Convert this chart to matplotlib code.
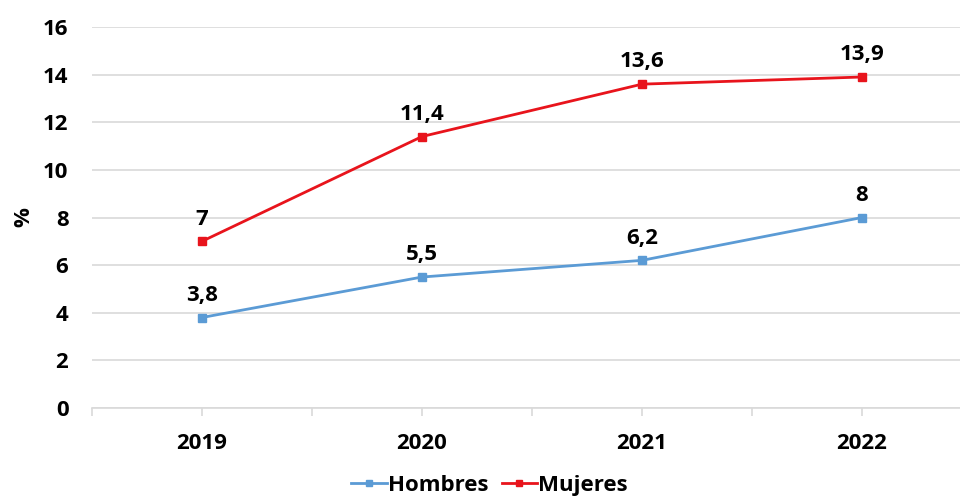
import numpy as np
import matplotlib.pyplot as plt

years = ["2019", "2020", "2021", "2022"]
hombres = [3.8, 5.5, 6.2, 8.0]
mujeres = [7.0, 11.4, 13.6, 13.9]
yticks = [0, 2, 4, 6, 8, 10, 12, 14, 16]

plt.rcParams['font.family'] = ['Open Sans', 'DejaVu Sans']
plt.rcParams['font.weight'] = 'bold'

BLUE = '#5b9bd5'
RED = '#e8141c'
FS = 16

fig = plt.figure(figsize=(9.6, 4.99), dpi=100)
ax = fig.add_axes([92 / 960, 1 - 408 / 499, 880 / 960, 381 / 499])

x = np.arange(len(years))
ax.plot(x, hombres, '-s', color=BLUE, lw=2.0, ms=5.5, label='Hombres')
ax.plot(x, mujeres, '-s', color=RED, lw=2.0, ms=5.5, label='Mujeres')

def fmt(v):
    return f"{v:g}".replace('.', ',')

# value labels above each point
for series in (hombres, mujeres):
    for xi, v in zip(x, series):
        ax.annotate(fmt(v), (xi, v), xytext=(0, 12), textcoords='offset points',
                    ha='center', va='baseline', fontsize=FS, fontweight='bold')

ax.set_xlim(-0.5, 3.5)
ax.set_ylim(0, 16)
ax.set_yticks(yticks)
ax.set_xticks(x)
ax.set_xticklabels(years)
ax.set_xticks(np.arange(-0.5, 4.0, 1.0), minor=True)
ax.tick_params(axis='y', length=0, labelsize=FS, pad=17)
ax.tick_params(axis='x', which='both', length=6, color='#d9d9d9', width=1.2)
ax.tick_params(axis='x', which='major', labelsize=FS, pad=12)
ax.set_ylabel('%', fontsize=FS, fontweight='bold')
ax.yaxis.set_label_coords(-0.066, 0.5)

ax.grid(axis='y', color='#d9d9d9', lw=1.2)
ax.set_axisbelow(True)
for s in ['top', 'right', 'left']:
    ax.spines[s].set_visible(False)
ax.spines['bottom'].set_color('#d9d9d9')
ax.spines['bottom'].set_linewidth(1.2)

fig.legend(loc='center', bbox_to_anchor=(0.51, 0.028), ncol=2, frameon=False,
           fontsize=FS, handlelength=1.6, handletextpad=0.05, columnspacing=0.6,
           markerscale=0.8)

fig.savefig('out.png', dpi=100)
